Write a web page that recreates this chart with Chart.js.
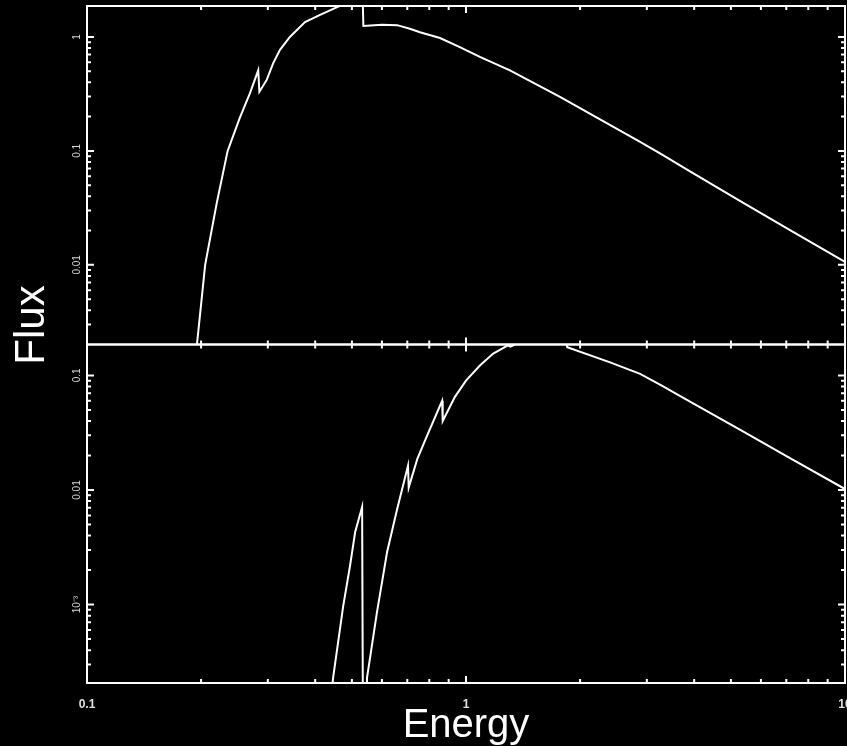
<!DOCTYPE html>
<html><head><meta charset="utf-8">
<script src="https://cdn.jsdelivr.net/npm/chart.js@4.4.1/dist/chart.umd.min.js"></script>
<style>html,body{margin:0;padding:0;background:#000;overflow:hidden}canvas{display:block}</style>
</head><body>
<canvas id="c" width="847" height="746"></canvas>
<script>
// ---- data ----
const energyTop = [0.19, 0.195, 0.2, 0.205, 0.22, 0.235, 0.253, 0.269, 0.283, 0.285, 0.298, 0.31, 0.323, 0.343, 0.376, 0.412, 0.457, 0.49, 0.534, 0.536, 0.6, 0.658, 0.711, 0.756, 0.854, 0.96, 1.088, 1.306, 1.77, 2.88, 3.25, 3.9, 5.28, 7.16, 10];
const fluxTop   = [0.0012, 0.002, 0.0045, 0.01, 0.035, 0.1, 0.195, 0.32, 0.51, 0.33, 0.42, 0.59, 0.77, 1.0, 1.35, 1.56, 1.83, 2.0, 2.1, 1.25, 1.28, 1.27, 1.18, 1.1, 0.98, 0.82, 0.67, 0.51, 0.298, 0.12, 0.095, 0.066, 0.0365, 0.0202, 0.0106];

const energyBottom = [0.44, 0.446, 0.474, 0.494, 0.51, 0.532, 0.534, 0.535, 0.545, 0.548, 0.582, 0.619, 0.658, 0.703, 0.706, 0.744, 0.789, 0.865, 0.868, 0.935, 1.0, 1.088, 1.18, 1.29, 1.31, 1.39, 1.6, 1.8, 1.84, 1.85, 2.4, 2.88, 3.25, 3.9, 5.28, 7.16, 10];
const fluxBottom   = [1.5e-4, 2.3e-4, 9.6e-4, 2.15e-3, 4.3e-3, 7.1e-3, 7.1e-3, 5e-5, 1e-4, 2.3e-4, 8.5e-4, 2.86e-3, 6.8e-3, 0.0163, 0.0105, 0.0187, 0.0297, 0.06, 0.040, 0.065, 0.09, 0.122, 0.155, 0.183, 0.178, 0.195, 0.205, 0.2, 0.19, 0.176, 0.13, 0.103, 0.083, 0.059, 0.0336, 0.019, 0.0102];

const xRange = [0.1, 10];
const topRange = [0.002, 1.87];
const bottomRange = [2.07e-4, 0.186];

const xTickValues = [0.1, 1, 10];
const xTickLabels = ['0.1', '1', '10'];
const topTickValues = [0.01, 0.1, 1];
const topTickLabels = ['0.01', '0.1', '1'];
const bottomTickValues = [0.001, 0.01, 0.1];
const bottomTickLabels = ['10\u207B\u00B3', '0.01', '0.1'];

const xTitle = 'Energy';
const yTitle = 'Flux';

// ---- helpers ----
function toPoints(xs, ys) { return xs.map((x, i) => ({x: x, y: ys[i]})); }
function isDecade(v) { const l = Math.log10(v); return Math.abs(l - Math.round(l)) < 1e-6; }
function logTicks(min, max) {
  const out = [];
  for (let e = Math.floor(Math.log10(min)); e <= Math.floor(Math.log10(max)); e++) {
    for (let m = 1; m <= 9; m++) {
      const v = m * Math.pow(10, e);
      if (v > min * 1.0001 && v < max * 0.9999) out.push(v);
    }
  }
  return out;
}

const clipPlugin = {
  id: 'panelClip',
  beforeDatasetDraw(chart, args) {
    const ys = chart.scales[args.meta.yAxisID];
    const a = chart.chartArea;
    chart.ctx.save();
    chart.ctx.beginPath();
    chart.ctx.rect(a.left, ys.top, a.right - a.left, ys.bottom - ys.top);
    chart.ctx.clip();
  },
  afterDatasetDraw(chart) { chart.ctx.restore(); }
};

const framePlugin = {
  id: 'frame',
  afterDraw(chart) {
    const ctx = chart.ctx;
    const xs = chart.scales.x;
    const L = xs.left, R = xs.right;
    const panels = [
      [chart.scales.yT, topTickValues, topTickLabels],
      [chart.scales.yB, bottomTickValues, bottomTickLabels]
    ];
    const xMinor = logTicks(xs.min, xs.max);
    ctx.save();
    ctx.strokeStyle = '#ffffff';
    ctx.lineWidth = 2;
    panels.forEach(([ys, vals, labs]) => {
      const T = ys.top, B = ys.bottom;
      ctx.strokeRect(L, T, R - L, B - T);
      ctx.beginPath();
      xMinor.forEach(v => {
        const px = xs.getPixelForValue(v);
        const len = isDecade(v) ? 7 : 4;
        ctx.moveTo(px, T); ctx.lineTo(px, T + len);
        ctx.moveTo(px, B); ctx.lineTo(px, B - len);
      });
      logTicks(ys.min, ys.max).forEach(v => {
        const py = ys.getPixelForValue(v);
        const len = isDecade(v) ? 7 : 4;
        ctx.moveTo(L, py); ctx.lineTo(L + len, py);
        ctx.moveTo(R, py); ctx.lineTo(R - len, py);
      });
      ctx.stroke();
      ctx.fillStyle = '#d8d8d8';
      ctx.font = '10px "Liberation Sans Narrow", "Liberation Sans", sans-serif';
      vals.forEach((v, i) => {
        const py = ys.getPixelForValue(v);
        ctx.save();
        ctx.translate(L - 10, py);
        ctx.rotate(-Math.PI / 2);
        ctx.textAlign = 'center';
        ctx.textBaseline = 'middle';
        ctx.fillText(labs[i], 0, 0);
        ctx.restore();
      });
    });
    ctx.fillStyle = '#ffffff';
    ctx.font = '40px "Liberation Sans", Arial, sans-serif';
    ctx.textAlign = 'center';
    ctx.textBaseline = 'alphabetic';
    ctx.fillText(xTitle, (L + R) / 2, 737);
    ctx.font = '42px "Liberation Sans", Arial, sans-serif';
    ctx.save();
    ctx.translate(44, 325);
    ctx.rotate(-Math.PI / 2);
    ctx.fillText(yTitle, 0, 0);
    ctx.restore();
    ctx.restore();
  }
};

new Chart(document.getElementById('c'), {
  type: 'line',
  data: {
    datasets: [
      { data: toPoints(energyTop, fluxTop), xAxisID: 'x', yAxisID: 'yT',
        borderColor: '#ffffff', borderWidth: 2, pointRadius: 0, tension: 0, fill: false },
      { data: toPoints(energyBottom, fluxBottom), xAxisID: 'x', yAxisID: 'yB',
        borderColor: '#ffffff', borderWidth: 2, pointRadius: 0, tension: 0, fill: false }
    ]
  },
  options: {
    responsive: false,
    animation: false,
    events: [],
    layout: { padding: { top: 6, right: 2, left: 0, bottom: 0 } },
    plugins: { legend: { display: false }, tooltip: { enabled: false } },
    scales: {
      x: {
        type: 'logarithmic', min: xRange[0], max: xRange[1],
        grid: { display: false }, border: { display: false },
        ticks: {
          autoSkip: false, maxRotation: 0, minRotation: 0, padding: 6,
          color: '#e0e0e0',
          font: { family: '"Liberation Sans Narrow", "Liberation Sans", sans-serif', size: 12, weight: 'bold' },
          callback: (value) => {
            const i = xTickValues.findIndex(t => Math.abs(t - value) / t < 1e-6);
            return i >= 0 ? xTickLabels[i] : '';
          }
        },
        afterFit: (s) => { s.height = 63; s.paddingLeft = 0; s.paddingRight = 0; }
      },
      yB: {
        type: 'logarithmic', position: 'left', stack: 'flux', stackWeight: 1,
        min: bottomRange[0], max: bottomRange[1],
        grid: { display: false }, border: { display: false },
        ticks: { display: false },
        afterFit: (s) => { s.width = 87; }
      },
      yT: {
        type: 'logarithmic', position: 'left', stack: 'flux', stackWeight: 1,
        min: topRange[0], max: topRange[1],
        grid: { display: false }, border: { display: false },
        ticks: { display: false },
        afterFit: (s) => { s.width = 87; }
      }
    }
  },
  plugins: [clipPlugin, framePlugin]
});
</script>
</body></html>
